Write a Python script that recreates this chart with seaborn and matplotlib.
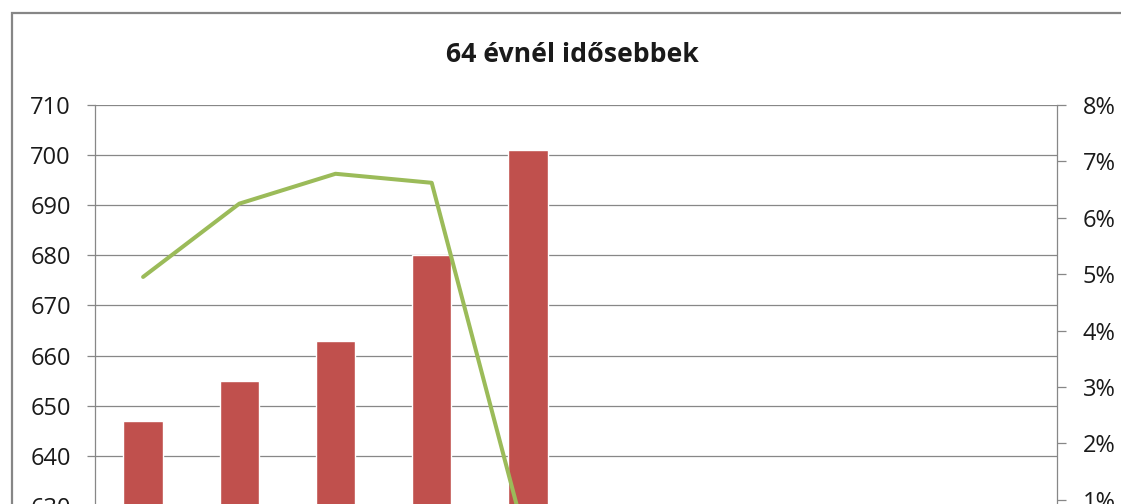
import numpy as np
import pandas as pd
import matplotlib
matplotlib.use("Agg")
import matplotlib.pyplot as plt
import seaborn as sns
from matplotlib.patches import Rectangle
from matplotlib.ticker import PercentFormatter

# data (chart is cropped at the bottom)
categories = [str(i) for i in range(1, 11)]
bar_values = [647, 655, 663, 680, 701]
line_values = [4.95, 6.25, 6.78, 6.62, 0.15]  # percent, right axis

title = "64 évnél idősebbek"
bar_color = "#C0504D"
line_color = "#9BBB59"
grid_color = "#878787"

sns.set_style("white")
plt.rcParams["font.family"] = ["Open Sans", "DejaVu Sans"]

W, H = 1121, 504
fig = plt.figure(figsize=(W / 100, H / 100), dpi=100)

# plot area in pixels: x 95..1057, y 105..556 (bottom is outside the image)
ax = fig.add_axes([95 / W, (H - 556) / H, (1057 - 95) / W, (556 - 105) / H])

df = pd.DataFrame({"cat": categories[:len(bar_values)], "val": bar_values})
sns.barplot(data=df, x="cat", y="val", order=categories, color=bar_color,
            saturation=1, width=0.41, ax=ax, zorder=2)
ax.set_xlim(-0.5, len(categories) - 0.5)
ax.set_ylim(620, 710)
ax.set_yticks(np.arange(620, 711, 10))
ax.set_xlabel("")
ax.set_ylabel("")
ax.set_xticks([])
ax.yaxis.grid(True, color=grid_color, linewidth=0.9, zorder=0)
ax.set_axisbelow(True)
for s in ["top", "right", "bottom"]:
    ax.spines[s].set_visible(False)
ax.spines["left"].set_color(grid_color)
ax.spines["left"].set_linewidth(0.9)
ax.tick_params(axis="y", left=True, length=5.8, width=0.9, color=grid_color,
               labelsize=17, pad=11.5, labelcolor="#1a1a1a")

ax2 = ax.twinx()
sns.lineplot(x=np.arange(len(line_values)), y=line_values, color=line_color,
             linewidth=2.9, ax=ax2)
ax2.set_ylim(0, 8)
ax2.set_yticks(np.arange(0, 9, 1))
ax2.yaxis.set_major_formatter(PercentFormatter(decimals=0))
ax2.set_xlim(-0.5, len(categories) - 0.5)
for s in ["top", "left", "bottom"]:
    ax2.spines[s].set_visible(False)
ax2.spines["right"].set_color(grid_color)
ax2.spines["right"].set_linewidth(0.9)
ax2.tick_params(axis="y", right=True, length=6.5, width=0.9, color=grid_color,
                labelsize=17, pad=12, labelcolor="#1a1a1a")
ax2.set_ylabel("")

fig.text(572 / W, 1 - 55 / H, title, ha="center", va="center",
         fontsize=19.2, fontweight="bold", color="#1a1a1a")

# outer chart frame, runs off the right and bottom edges
fig.patches.append(Rectangle((12 / W, -0.2), 1.2, 1 - 13 / H + 0.2,
                             transform=fig.transFigure, fill=False,
                             edgecolor="#868686", linewidth=1.6, zorder=0))

fig.savefig("out.png", dpi=100)
